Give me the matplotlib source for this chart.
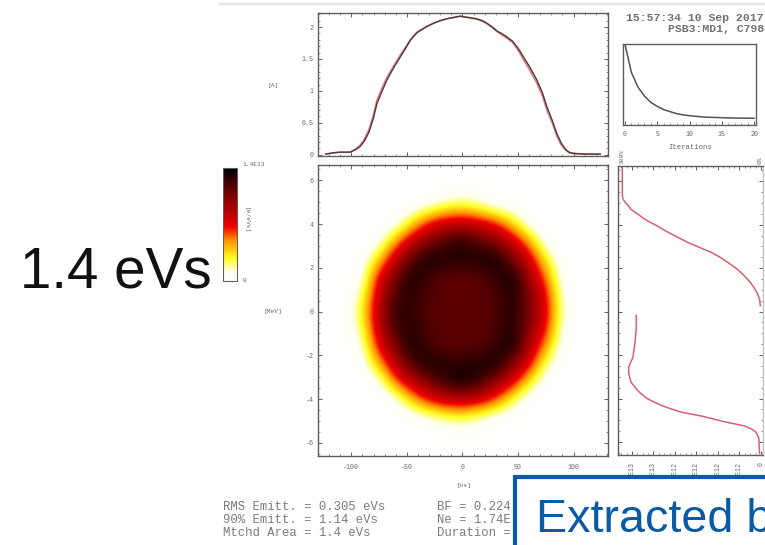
import numpy as np
import matplotlib as mpl
mpl.use("Agg")
import matplotlib.pyplot as plt
import matplotlib.colors as mcolors
from matplotlib.cm import ScalarMappable
from matplotlib.patches import Rectangle
from matplotlib.ticker import MultipleLocator

W, H = 765, 545
MONO = "Liberation Mono"
INK = "#666666"
SPINE = "#5f5f5f"
mpl.rcParams["axes.unicode_minus"] = False

# bunch current profile, reconstructed (black) and measured (red)
time_ns = [-123, -116, -110, -105, -101, -96, -92, -88, -84, -80, -77, -72, -68, -62, -56, -51, -47, -41, -33, -26,
           -20, -14, -8, -2, 5, 13, 18, 22, 27, 31, 38, 45, 50, 55, 61, 67, 72, 76, 81, 85, 89, 93, 96, 100, 110, 124]
current_rec = [.01, .03, .04, .04, .04, .08, .13, .22, .36, .58, .80, 1.01, 1.17, 1.36, 1.53, 1.67, 1.79, 1.91, 2.0, 2.06,
               2.1, 2.13, 2.15, 2.17, 2.15, 2.13, 2.10, 2.06, 2.0, 1.94, 1.87, 1.78, 1.67, 1.53, 1.36, 1.17, .97, .75, .53, .33,
               .18, .08, .04, .02, .01, .01]
current_meas = [.01, .03, .04, .04, .04, .09, .15, .25, .40, .63, .85, 1.06, 1.21, 1.39, 1.56, 1.69, 1.80, 1.92, 2.0, 2.06,
                2.1, 2.13, 2.15, 2.17, 2.15, 2.12, 2.09, 2.05, 1.99, 1.93, 1.85, 1.76, 1.64, 1.49, 1.31, 1.12, .92, .70, .49, .29,
                .15, .07, .03, .02, .01, .01]

# convergence curve
iterations = list(range(21))
discrepancy = [1.0, 0.65, 0.47, 0.36, 0.28, 0.23, 0.19, 0.165, 0.14, 0.125, 0.115, 0.107, 0.10, 0.096, 0.093,
               0.09, 0.088, 0.086, 0.085, 0.084, 0.083]

# phase space density, in units of the peak, read on a coarse grid
grid_ns = [-105, -90, -75, -60, -45, -30, -15, 0, 15, 30, 45, 60, 75, 90, 105]
grid_mev = [5.6, 4.8, 4.0, 3.2, 2.4, 1.6, 0.8, 0.0, -0.8, -1.6, -2.4, -3.2, -4.0, -4.8, -5.6]
density = [
 [0, 0, 0, 0, 0, 0, 0, .01, .01, 0, 0, 0, 0, 0, 0],
 [0, 0, 0, 0, 0, .06, .15, .20, .13, .04, .01, 0, 0, 0, 0],
 [0, 0, 0, .02, .25, .50, .60, .62, .58, .48, .28, .02, 0, 0, 0],
 [0, 0, .02, .33, .60, .74, .87, .92, .84, .74, .60, .35, .02, 0, 0],
 [0, .01, .25, .60, .84, .98, .95, .95, .95, 1.0, .76, .58, .22, .01, 0],
 [0, .04, .50, .75, .98, .86, .82, .80, .82, .88, 1.0, .68, .40, .02, 0],
 [0, .12, .58, .87, .92, .84, .82, .80, .82, .84, .96, .76, .52, .07, 0],
 [0, .20, .62, .92, .90, .84, .82, .82, .82, .84, .94, .78, .55, .10, 0],
 [0, .14, .60, .88, .92, .84, .82, .82, .82, .84, .96, .74, .50, .06, 0],
 [0, .06, .50, .76, .98, .86, .82, .82, .82, .88, 1.0, .66, .35, .02, 0],
 [0, .01, .30, .62, .85, .98, .92, .92, .95, 1.0, .74, .54, .14, .01, 0],
 [0, 0, .03, .40, .62, .76, .90, 1.0, .90, .72, .56, .24, .01, 0, 0],
 [0, 0, 0, .03, .30, .50, .60, .62, .58, .44, .18, .01, 0, 0, 0],
 [0, 0, 0, 0, .01, .07, .15, .18, .12, .03, .01, 0, 0, 0, 0],
 [0, 0, 0, 0, 0, 0, 0, .01, .01, 0, 0, 0, 0, 0, 0],
]

# projected profile on the right, two separate branches
upper_mev = [6.62, 6.01, 5.32, 5.15, 5.01, 4.85, 4.71, 4.5, 4.25, 3.95, 3.64, 3.18, 2.95, 2.72, 2.5, 2.27, 1.95, 1.65, 1.35, 1.11, 0.85, 0.58, 0.27]
upper_val = [1.29, 1.29, 1.29, 1.28, 1.26, 1.23, 1.21, 1.15, 1.08, 0.97, 0.86, 0.68, 0.57, 0.46, 0.38, 0.31, 0.22, 0.155, 0.10, 0.065, 0.035, 0.013, 0.006]
lower_mev = [-0.18, -0.72, -1.33, -2.09, -2.55, -2.86, -3.24, -3.62, -3.8, -4.0, -4.15, -4.31, -4.47, -4.62, -4.81, -5.07, -5.26, -5.4, -5.53, -5.7, -5.84, -6.53]
lower_val = [1.16, 1.16, 1.17, 1.19, 1.23, 1.23, 1.21, 1.15, 1.11, 1.06, 1.0, 0.93, 0.84, 0.75, 0.55, 0.34, 0.155, 0.09, 0.05, 0.03, 0.02, 0.013]
profile_ticks = [1.2, 1.0, 0.8, 0.6, 0.4, 0.2, 0.0]
profile_labels = ["1.2E13", "1.0E13", "8.0E12", "6.0E12", "4.0E12", "2.0E12", "0"]

stats_left = ["RMS Emitt. = 0.305 eVs", "90% Emitt. = 1.14 eVs", "Mtchd Area = 1.4 eVs"]
stats_right = ["BF = 0.224", "Ne = 1.74E", "Duration ="]

cmap = mcolors.LinearSegmentedColormap.from_list("tomo", [
    (0, "#ffffff"), (0.08, "#fffff0"), (0.2, "#ffff20"), (0.36, "#ff9000"),
    (0.48, "#f00000"), (0.75, "#800000"), (1, "#000000")])


def px_axes(x0, y0, x1, y1):
    # axes from pixel box, y counted from the top
    ax = fig.add_axes([x0/W, 1-y1/H, (x1-x0)/W, (y1-y0)/H])
    for s in ax.spines.values():
        s.set_color(SPINE)
        s.set_linewidth(1.0)
    return ax


def ptext(x, y, s, **kw):
    kw.setdefault("family", MONO)
    kw.setdefault("color", INK)
    kw.setdefault("fontsize", 4.5)
    kw.setdefault("va", "center")
    return fig.text(x/W, 1-y/H, s, **kw)


def ticks(ax, sides=True):
    ax.tick_params(which="major", direction="in", length=3, width=0.7, color=SPINE,
                   top=sides, right=sides, labelsize=4.8, labelcolor=INK, pad=3)
    ax.tick_params(which="minor", direction="in", length=1.5, width=0.5, color=SPINE,
                   top=sides, right=sides)
    for lab in ax.get_xticklabels() + ax.get_yticklabels():
        lab.set_family(MONO)


fig = plt.figure(figsize=(W/100, H/100), dpi=100)
fig.add_artist(plt.Line2D([220/W, 1], [1-4/H, 1-4/H], color="#e6e6e6", lw=1.5))

# current profile
ax_top = px_axes(318, 13, 608, 156)
ax_top.plot(time_ns, current_meas, color="#e07f7f", lw=1.2)
ax_top.plot(time_ns, current_rec, color="#4a3a3c", lw=1.0)
ax_top.set_xlim(-130, 131)
ax_top.set_ylim(-0.02, 2.22)
ax_top.set_yticks([0, 0.5, 1, 1.5, 2])
ax_top.set_yticklabels(["0", "0.5", "1", "1.5", "2"])
ax_top.yaxis.set_minor_locator(MultipleLocator(0.1))
ax_top.xaxis.set_major_locator(MultipleLocator(50))
ax_top.xaxis.set_minor_locator(MultipleLocator(10))
ax_top.set_xticklabels([])
ticks(ax_top)
ptext(273, 86, "[A]", ha="center")

# phase space
ax_main = px_axes(318, 165, 608, 456)
half_x = (grid_ns[1]-grid_ns[0])/2
half_y = (grid_mev[0]-grid_mev[1])/2
ax_main.imshow(density, cmap=cmap, vmin=0, vmax=1, aspect="auto", interpolation="bicubic",
               extent=[grid_ns[0]-half_x, grid_ns[-1]+half_x, grid_mev[-1]-half_y, grid_mev[0]+half_y])
ax_main.set_xlim(-130, 131)
ax_main.set_ylim(-6.6, 6.7)
ax_main.set_xticks([-100, -50, 0, 50, 100])
ax_main.set_yticks([-6, -4, -2, 0, 2, 4, 6])
ax_main.xaxis.set_minor_locator(MultipleLocator(10))
ax_main.yaxis.set_minor_locator(MultipleLocator(0.5))
ticks(ax_main)
ax_main.tick_params(axis="x", pad=6)
ptext(273, 311, "[MeV]", ha="center")
ptext(464, 485, "[ns]", ha="center")

# iterations
ax_it = px_axes(623, 44, 756, 125)
ax_it.plot(iterations, discrepancy, color="#5a5054", lw=1.1)
ax_it.set_xlim(-0.3, 20.3)
ax_it.set_ylim(0, 1)
ax_it.set_yticks([])
ax_it.set_xticks([0, 5, 10, 15, 20])
ax_it.xaxis.set_minor_locator(MultipleLocator(1))
ticks(ax_it, sides=False)
ax_it.tick_params(axis="x", pad=4)
ptext(690, 147, "Iterations", ha="center", fontsize=5.2)
ptext(764, 18, "15:57:34 10 Sep 2017", ha="right", fontsize=8.2, fontweight="bold", color="#707070")
ptext(764, 29, "PSB3:MD1, C798", ha="right", fontsize=8.2, fontweight="bold", color="#707070")

# projected profile
ax_prof = px_axes(618, 166, 763, 455)
ax_prof.plot(upper_val, upper_mev, color="#d8606e", lw=1.1)
ax_prof.plot(lower_val, lower_mev, color="#d8606e", lw=1.1)
ax_prof.set_xlim(1.33, -0.019)
ax_prof.set_ylim(-6.6, 6.7)
ax_prof.set_yticks([-6, -4, -2, 0, 2, 4, 6])
ax_prof.set_yticklabels([])
ax_prof.yaxis.set_minor_locator(MultipleLocator(0.5))
ax_prof.set_xticks(profile_ticks)
ax_prof.set_xticklabels(profile_labels, rotation=90, fontsize=4.5)
ax_prof.xaxis.set_minor_locator(MultipleLocator(0.05))
ticks(ax_prof)
ax_prof.tick_params(axis="x", pad=5)
ax_prof.spines["right"].set_color("#c4c4c4")
ptext(622, 156, "100%", ha="center", rotation=90)
ptext(760, 160, "0%", ha="center", rotation=90)

# colour bar
cax = px_axes(223, 168, 237, 281)
cb = fig.colorbar(ScalarMappable(mcolors.Normalize(0, 1), cmap), cax=cax)
cb.set_ticks([])
cb.outline.set_edgecolor(SPINE)
cb.outline.set_linewidth(0.8)
ptext(242, 165, "1.4E13", ha="left")
ptext(243, 281, "0", ha="left")
ptext(246, 220, "[e/eVs]", ha="center", rotation=270)

for i, (a, b) in enumerate(zip(stats_left, stats_right)):
    ptext(223, 507+13*i, a, fontsize=8.8, ha="left", color="#7a7a7a", zorder=2)
    ptext(437, 507+13*i, b, fontsize=8.8, ha="left", color="#7a7a7a", zorder=2)

ptext(20, 287, "1.4 eVs", family="Liberation Sans", fontsize=40.8, color="#111111", ha="left", va="baseline")

blue = "#0a5aa6"
fig.add_artist(Rectangle((515/W, -0.05), 300/W, 1-477/H+0.05, transform=fig.transFigure,
                         facecolor="white", edgecolor=blue, linewidth=3, zorder=5))
ptext(536, 532, "Extracted b", family="Liberation Sans", fontsize=33.6, color=blue, ha="left", va="baseline", zorder=6)

fig.savefig("out.png", dpi=100)
plt.close(fig)
